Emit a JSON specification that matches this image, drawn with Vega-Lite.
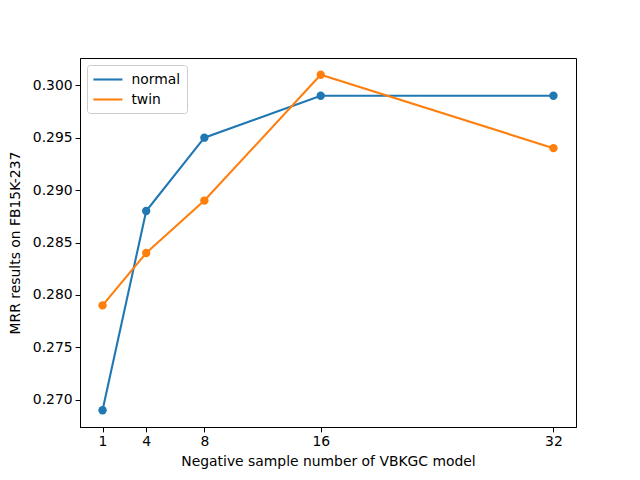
{
  "$schema": "https://vega.github.io/schema/vega-lite/v6.json",
  "width": 496,
  "height": 369,
  "autosize": {"type": "none"},
  "padding": {"left": 80, "top": 58, "right": 64, "bottom": 53},
  "background": "white",
  "config": {
    "font": "DejaVu Sans",
    "view": {"stroke": "black", "strokeWidth": 1},
    "axis": {
      "domainColor": "black", "tickColor": "black", "labelColor": "black", "titleColor": "black",
      "labelFont": "DejaVu Sans", "titleFont": "DejaVu Sans",
      "labelFontSize": 13.9, "titleFontSize": 13.9, "titleFontWeight": "normal",
      "tickSize": 4.9, "grid": false, "labelPadding": 3
    }
  },
  "data": {"values": [
    {"n": 1, "mrr": 0.269, "series": "normal"},
    {"n": 4, "mrr": 0.288, "series": "normal"},
    {"n": 8, "mrr": 0.295, "series": "normal"},
    {"n": 16, "mrr": 0.299, "series": "normal"},
    {"n": 32, "mrr": 0.299, "series": "normal"},
    {"n": 1, "mrr": 0.279, "series": "twin"},
    {"n": 4, "mrr": 0.284, "series": "twin"},
    {"n": 8, "mrr": 0.289, "series": "twin"},
    {"n": 16, "mrr": 0.301, "series": "twin"},
    {"n": 32, "mrr": 0.294, "series": "twin"}
  ]},
  "encoding": {
    "x": {"field": "n", "type": "quantitative",
      "scale": {"domain": [-0.55, 33.55], "nice": false, "zero": false},
      "axis": {"values": [1, 4, 8, 16, 32], "title": "Negative sample number of VBKGC model", "titlePadding": 6}},
    "y": {"field": "mrr", "type": "quantitative",
      "scale": {"domain": [0.2674, 0.3026], "nice": false, "zero": false},
      "axis": {"values": [0.27, 0.275, 0.28, 0.285, 0.29, 0.295, 0.3], "format": ".3f", "title": "MRR results on FB15K-237", "titlePadding": 10}}
  },
  "layer": [
    {
      "mark": {"type": "line", "strokeWidth": 2.08},
      "encoding": {
        "color": {"field": "series", "type": "nominal",
          "scale": {"domain": ["normal", "twin"], "range": ["#1f77b4", "#ff7f0e"]},
          "legend": {"title": null, "orient": "top-left", "offset": 7, "padding": 6,
            "strokeColor": "#cccccc", "fillColor": "white", "cornerRadius": 3,
            "symbolType": "M-2.07,0H2.07", "symbolSize": 196, "symbolStrokeWidth": 2.08,
            "symbolOffset": 6.4,
            "labelFontSize": 13.9, "labelFont": "DejaVu Sans", "labelColor": "black",
            "rowPadding": 4, "labelOffset": 15}}
      }
    },
    {
      "mark": {"type": "point", "filled": true, "opacity": 1, "size": 70},
      "encoding": {
        "fill": {"field": "series", "type": "nominal",
          "scale": {"domain": ["normal", "twin"], "range": ["#1f77b4", "#ff7f0e"]},
          "legend": null}
      }
    }
  ]
}
